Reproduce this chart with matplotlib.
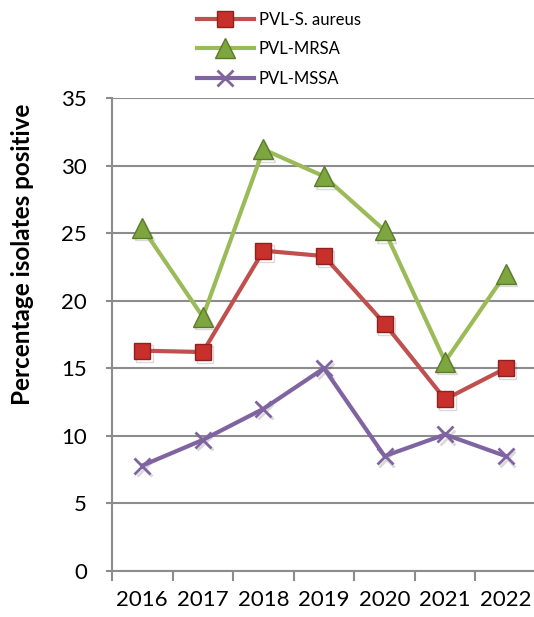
import matplotlib
matplotlib.use("Agg")
import matplotlib.pyplot as plt
import matplotlib.patheffects as pe
import numpy as np

plt.rcParams["font.family"] = ["Lato", "DejaVu Sans"]

years = ["2016", "2017", "2018", "2019", "2020", "2021", "2022"]
pvl_s_aureus = [16.3, 16.2, 23.7, 23.3, 18.3, 12.7, 15.0]
pvl_mrsa = [25.4, 18.8, 31.2, 29.2, 25.2, 15.5, 22.0]
pvl_mssa = [7.8, 9.7, 12.0, 15.0, 8.5, 10.1, 8.5]

RED = "#C0504D"
GREEN = "#9BBB59"
PURPLE = "#8064A2"
GRID = "#8C8C8C"

fig = plt.figure(figsize=(5.34, 6.17), dpi=100)
ax = fig.add_axes([0.2097, 0.0746, 0.794, 0.7666])

x = np.arange(len(years))
shadow_only = [pe.SimpleLineShadow(offset=(1.5, -2), alpha=0.15, shadow_color="black")]

series = [
    (pvl_s_aureus, "PVL-S. aureus", RED, dict(marker="s", ms=12, mfc="#C8302C", mec="#8E2220", mew=1.0)),
    (pvl_mrsa, "PVL-MRSA", GREEN, dict(marker="^", ms=14, mfc="#7EA63E", mec="#5C7A2C", mew=1.0)),
    (pvl_mssa, "PVL-MSSA", PURPLE, dict(marker="x", ms=11, mec=PURPLE, mew=2.0)),
]
for vals, name, col, mk in series:
    # soft drop shadow under the markers only
    ax.plot(x, vals, ls="none", path_effects=shadow_only, zorder=2, **mk)
    ax.plot(x, vals, color=col, lw=3, label=name, zorder=3, **mk)

ax.set_xlim(-0.5, 6.5)
ax.set_ylim(0, 35)
ax.set_yticks(np.arange(0, 36, 5))
ax.yaxis.grid(True, color=GRID, lw=1.5)
ax.set_axisbelow(True)

# category labels sit between boundary tick marks
ax.set_xticks(np.arange(-0.5, 7, 1))
ax.set_xticklabels([])
ax.set_xticks(x, minor=True)
ax.set_xticklabels(years, minor=True, fontsize=16)
ax.tick_params(axis="x", which="major", length=7, width=1.5, color=GRID, direction="out")
ax.tick_params(axis="x", which="minor", length=0, pad=14)
ax.tick_params(axis="y", length=4, width=1.5, color=GRID, labelsize=16, pad=14)

for side in ["top", "right"]:
    ax.spines[side].set_visible(False)
for side in ["left", "bottom"]:
    ax.spines[side].set_color(GRID)
    ax.spines[side].set_linewidth(1.5)

ax.set_ylabel("Percentage isolates positive", fontsize=17.5, fontweight="bold")
ax.yaxis.set_label_coords(-0.185, 0.67)

fig.legend(loc="upper left", bbox_to_anchor=(0.35, 0.997), frameon=False,
           fontsize=12, handlelength=3.4, handletextpad=0.3, labelspacing=0.8,
           borderaxespad=0.2)

fig.savefig("out.png", dpi=100)
